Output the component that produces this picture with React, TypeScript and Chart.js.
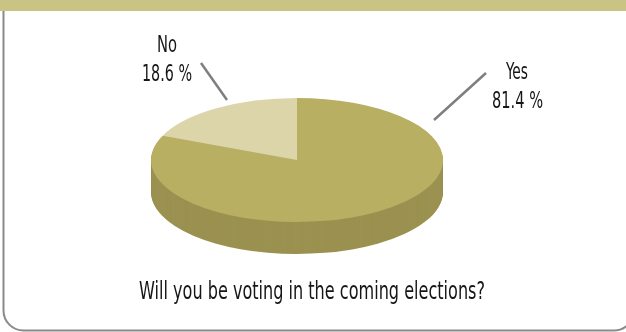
import React, { useEffect, useRef } from "react";
import { Chart, registerables } from "chart.js";
Chart.register(...registerables);

const categories = ["Yes", "No"];
const values = [81.4, 18.6];
const valueLabels = ["81.4 %", "18.6 %"];
const question = "Will you be voting in the coming elections?";
const topColors = ["#b8af63", "#dcd5a9"];
const sideColors = ["#9b9150", "#b5ad78"];

const FONT = '"Liberation Sans Narrow", "DejaVu Sans Condensed", "Liberation Sans", sans-serif';

function drawText(ctx: CanvasRenderingContext2D, text: string, x: number, baseline: number, size: number, width: number) {
  ctx.save();
  ctx.font = `${size}px ${FONT}`;
  const w = ctx.measureText(text).width;
  const sx = width / w;
  ctx.translate(x, baseline);
  ctx.scale(sx, 1);
  ctx.textAlign = "center";
  ctx.textBaseline = "alphabetic";
  ctx.fillStyle = "#161616";
  ctx.fillText(text, 0, 0);
  ctx.restore();
}

const pie3d = {
  id: "pie3d",
  beforeDraw(chart: any) {
    const ctx: CanvasRenderingContext2D = chart.ctx;
    ctx.save();
    ctx.fillStyle = "#ffffff";
    ctx.fillRect(0, 0, chart.width, chart.height);
    // frame
    ctx.strokeStyle = "#8a8a8a";
    ctx.lineWidth = 2;
    const l = 3.5, t = 2, r = 634, b = 330.5, rad = 20;
    ctx.beginPath();
    ctx.moveTo(l, t);
    ctx.lineTo(l, b - rad);
    ctx.arcTo(l, b, l + rad, b, rad);
    ctx.lineTo(r - rad, b);
    ctx.arcTo(r, b, r, b - rad, rad);
    ctx.lineTo(r, t);
    ctx.stroke();
    // title band
    ctx.fillStyle = "#c9c384";
    ctx.fillRect(0, 0, chart.width, 11);
    ctx.restore();
  },
  beforeDatasetsDraw(chart: any) {
    const ctx: CanvasRenderingContext2D = chart.ctx;
    const arcs = chart.getDatasetMeta(0).data;
    if (!arcs.length) return false;
    const a0 = arcs[0];
    const R = a0.outerRadius;
    const ox = a0.x, oy = a0.y;
    const cx = 297, cy = 160, rx = 146, ry = 62, depth = 32;
    const drawLayer = (dy: number, cols: string[]) => {
      ctx.save();
      ctx.translate(cx, cy + dy);
      ctx.scale(rx / R, ry / R);
      ctx.translate(-ox, -oy);
      arcs.forEach((arc: any, i: number) => {
        const fake = Object.create(arc);
        fake.options = { ...arc.options, backgroundColor: cols[i], borderColor: cols[i], borderWidth: 0 };
        fake.draw(ctx);
      });
      ctx.restore();
    };
    for (let d = depth; d > 0; d--) drawLayer(d, sideColors);
    drawLayer(0, topColors);
    return false;
  },
  afterDraw(chart: any) {
    const ctx: CanvasRenderingContext2D = chart.ctx;
    ctx.save();
    ctx.strokeStyle = "#7f7f7f";
    ctx.lineWidth = 2.5;
    ctx.beginPath();
    ctx.moveTo(201, 63);
    ctx.lineTo(227, 100);
    ctx.moveTo(486, 73);
    ctx.lineTo(434, 120);
    ctx.stroke();
    ctx.restore();
    drawText(ctx, categories[1], 167, 52, 23, 20);
    drawText(ctx, valueLabels[1], 167, 81, 23, 50);
    drawText(ctx, categories[0], 517, 79, 23, 22);
    drawText(ctx, valueLabels[0], 517.5, 108, 23, 51);
    drawText(ctx, question, 312, 299, 25, 346);
  },
};

export default function App() {
  const ref = useRef<HTMLCanvasElement | null>(null);
  useEffect(() => {
    if (!ref.current) return;
    const chart = new Chart(ref.current, {
      type: "pie",
      data: {
        labels: categories,
        datasets: [{ data: values, backgroundColor: topColors, borderWidth: 0 }],
      },
      options: {
        responsive: false,
        animation: false,
        layout: { padding: 20 },
        plugins: { legend: { display: false }, tooltip: { enabled: false } },
      },
      plugins: [pie3d as any],
    });
    return () => chart.destroy();
  }, []);
  return (
    <canvas
      ref={ref}
      width={626}
      height={332}
      style={{ position: "fixed", left: 0, top: 0, width: 626, height: 332 }}
    />
  );
}
